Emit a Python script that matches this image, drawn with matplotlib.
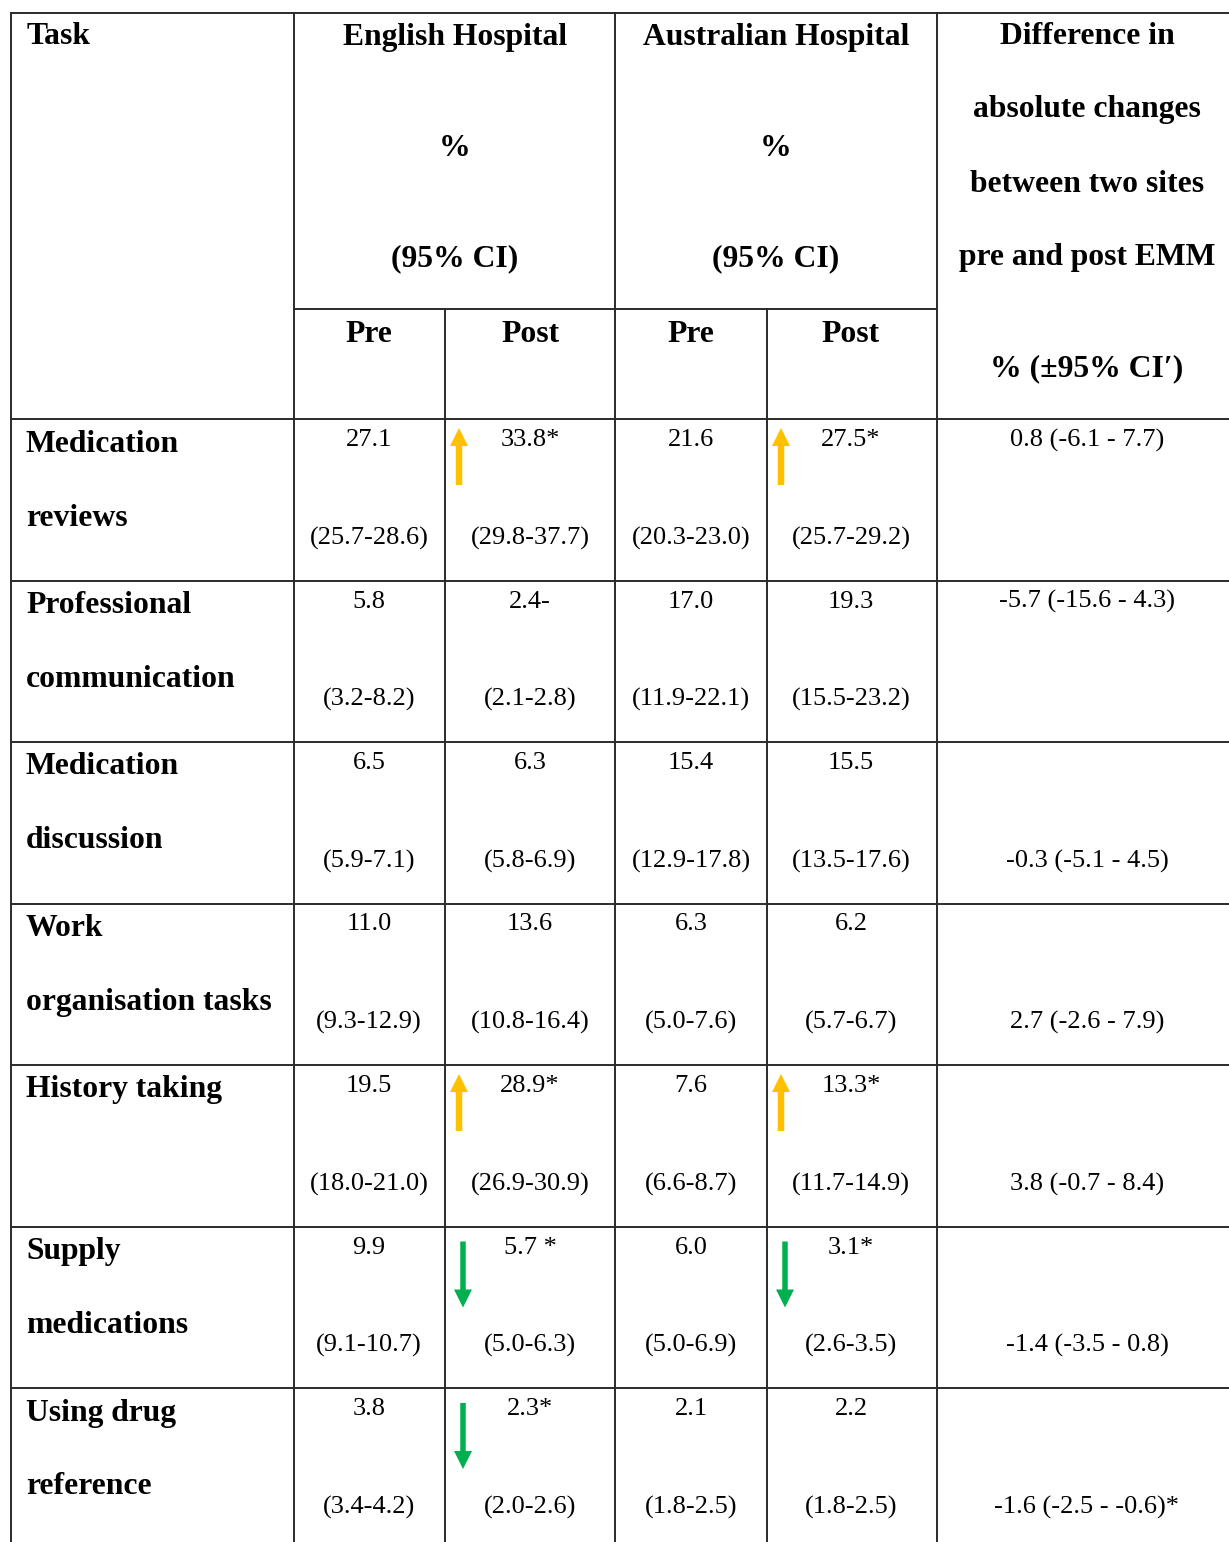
import matplotlib
matplotlib.use("Agg")
import matplotlib.pyplot as plt

plt.rcParams['font.family'] = ['Liberation Serif', 'DejaVu Serif']

# ---- data ----
task_lines = [["Medication", "reviews"], ["Professional", "communication"],
              ["Medication", "discussion"], ["Work", "organisation tasks"],
              ["History taking"], ["Supply", "medications"], ["Using drug", "reference"]]
eng_pre = ["27.1", "5.8", "6.5", "11.0", "19.5", "9.9", "3.8"]
eng_pre_ci = ["(25.7-28.6)", "(3.2-8.2)", "(5.9-7.1)", "(9.3-12.9)", "(18.0-21.0)", "(9.1-10.7)", "(3.4-4.2)"]
eng_post = ["33.8*", "2.4-", "6.3", "13.6", "28.9*", "5.7 *", "2.3*"]
eng_post_ci = ["(29.8-37.7)", "(2.1-2.8)", "(5.8-6.9)", "(10.8-16.4)", "(26.9-30.9)", "(5.0-6.3)", "(2.0-2.6)"]
aus_pre = ["21.6", "17.0", "15.4", "6.3", "7.6", "6.0", "2.1"]
aus_pre_ci = ["(20.3-23.0)", "(11.9-22.1)", "(12.9-17.8)", "(5.0-7.6)", "(6.6-8.7)", "(5.0-6.9)", "(1.8-2.5)"]
aus_post = ["27.5*", "19.3", "15.5", "6.2", "13.3*", "3.1*", "2.2"]
aus_post_ci = ["(25.7-29.2)", "(15.5-23.2)", "(13.5-17.6)", "(5.7-6.7)", "(11.7-14.9)", "(2.6-3.5)", "(1.8-2.5)"]
diff = ["0.8 (-6.1 - 7.7)", "-5.7 (-15.6 - 4.3)", "-0.3 (-5.1 - 4.5)", "2.7 (-2.6 - 7.9)",
        "3.8 (-0.7 - 8.4)", "-1.4 (-3.5 - 0.8)", "-1.6 (-2.5 - -0.6)*"]
diff_at_top = [True, True, False, False, False, False, False]
eng_change = [1, 0, 0, 0, 1, -1, -1]
aus_change = [1, 0, 0, 0, 1, -1, 0]

# ---- layout ----
W, H = 1229, 1542
fig = plt.figure(figsize=(W / 100, H / 100), dpi=100)
ax = fig.add_axes([0, 0, 1, 1])
ax.set_xlim(0, W)
ax.set_ylim(H, 0)
ax.axis('off')

col_x = [11, 294, 445, 615, 767, 937, W]
top = 13
sub_y = 309
head_bot = 419
row_h = 161.5
row_tops = [head_bot + i * row_h for i in range(len(task_lines))]
lc = '#2b2b2b'
lw = 1.4

ax.plot([col_x[0], W], [top, top], color=lc, lw=lw)
for x in [col_x[0], col_x[1], col_x[3], col_x[5]]:
    ax.plot([x, x], [top, H], color=lc, lw=lw)
for x in [col_x[2], col_x[4]]:
    ax.plot([x, x], [sub_y, H], color=lc, lw=lw)
ax.plot([col_x[1], col_x[5]], [sub_y, sub_y], color=lc, lw=lw)
for y in row_tops:
    ax.plot([col_x[0], W], [y, y], color=lc, lw=lw)

HF = 22.8
DF = 19
bold = dict(fontsize=HF, fontweight='bold', va='center', color='black')
norm = dict(fontsize=DF, va='center', color='black')

ax.text(27, 37, "Task", ha='left', **bold)
for cx, name in [(455, "English Hospital"), (776, "Australian Hospital")]:
    ax.text(cx, 37, name, ha='center', **bold)
    ax.text(cx, 148, "%", ha='center', **bold)
    ax.text(cx, 259, "(95% CI)", ha='center', **bold)
for cx, lab in [(369, "Pre"), (530, "Post"), (691, "Pre"), (851, "Post")]:
    ax.text(cx, 334, lab, ha='center', **bold)
for y, lab in [(37, "Difference in"), (110, "absolute changes"), (184, "between two sites"),
               (258, "pre and post EMM"), (369, "% (\u00b195% CI\u2032)")]:
    ax.text(1087, y, lab, ha='center', **bold)

centers = [369, 530, 691, 851]
cols = [(eng_pre, eng_pre_ci), (eng_post, eng_post_ci), (aus_pre, aus_pre_ci), (aus_post, aus_post_ci)]
for i, rt in enumerate(row_tops):
    for k, ln in enumerate(task_lines[i]):
        ax.text(26, rt + 25 + 74 * k, ln, ha='left', **bold)
    for cx, (vals, cis) in zip(centers, cols):
        ax.text(cx, rt + 21, vals[i], ha='center', **norm)
        ax.text(cx, rt + 119, cis[i], ha='center', **norm)
    dy = 21 if diff_at_top[i] else 119
    ax.text(1087, rt + dy, diff[i], ha='center', **norm)

    for ch, cl in [(eng_change[i], col_x[2]), (aus_change[i], col_x[4])]:
        if ch > 0:
            ax.arrow(cl + 14, rt + 66, 0, -57, width=6.5, head_width=18, head_length=18,
                     length_includes_head=True, color='#FFC000', lw=0)
        elif ch < 0:
            ax.arrow(cl + 18, rt + 15, 0, 66, width=5.5, head_width=18, head_length=18,
                     length_includes_head=True, color='#00B050', lw=0)

fig.savefig("out.png", dpi=100, facecolor='white')
